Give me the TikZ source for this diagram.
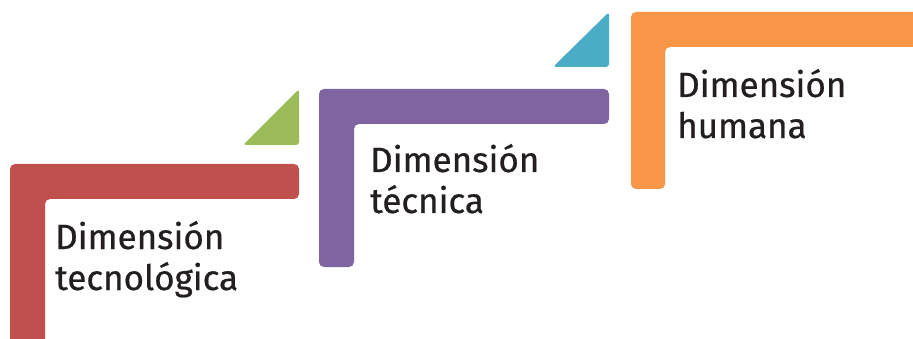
\documentclass[tikz,border=0pt]{standalone}
\usepackage{fontspec}
\setmainfont{Fira Sans}[FakeBold=0.6]
\definecolor{cred}{HTML}{C0504D}
\definecolor{cgreen}{HTML}{9BBB59}
\definecolor{cpurple}{HTML}{8064A2}
\definecolor{cblue}{HTML}{4BACC6}
\definecolor{corange}{HTML}{F79646}
\definecolor{ctext}{HTML}{231F20}
\begin{document}
\begin{tikzpicture}[x=1pt,y=-1pt,
  lshape/.style={rounded corners=5pt},
  tri/.style={rounded corners=3pt},
  lbl/.style={anchor=base west, inner sep=0pt, align=left, text=ctext,
    font=\fontsize{35}{41}\selectfont}]
\clip (0,0) rectangle (913,339);
\fill[white] (0,0) rectangle (913,339);
% red
\fill[cred,lshape] (10,164) -- (299,164) -- (299,199) -- (45,199) -- (45,360) -- (10,360) -- cycle;
\fill[cgreen,tri] (243,145) -- (299,145) -- (299,89) -- cycle;
% purple
\fill[cpurple,lshape] (319,89) -- (609,89) -- (609,124) -- (354,124) -- (354,267) -- (319,267) -- cycle;
\fill[cblue,tri] (553,67) -- (609,67) -- (609,12) -- cycle;
% orange
\fill[corange,lshape] (631,12) -- (940,12) -- (940,47) -- (665,47) -- (665,189) -- (631,189) -- cycle;
\node[lbl] (t1) at (55,290) {Dimensión\\tecnológica};
\node[lbl] (t2) at (370,213) {Dimensión\\técnica};
\node[lbl] (t3) at (677,138) {Dimensión\\humana};
\end{tikzpicture}
\end{document}
